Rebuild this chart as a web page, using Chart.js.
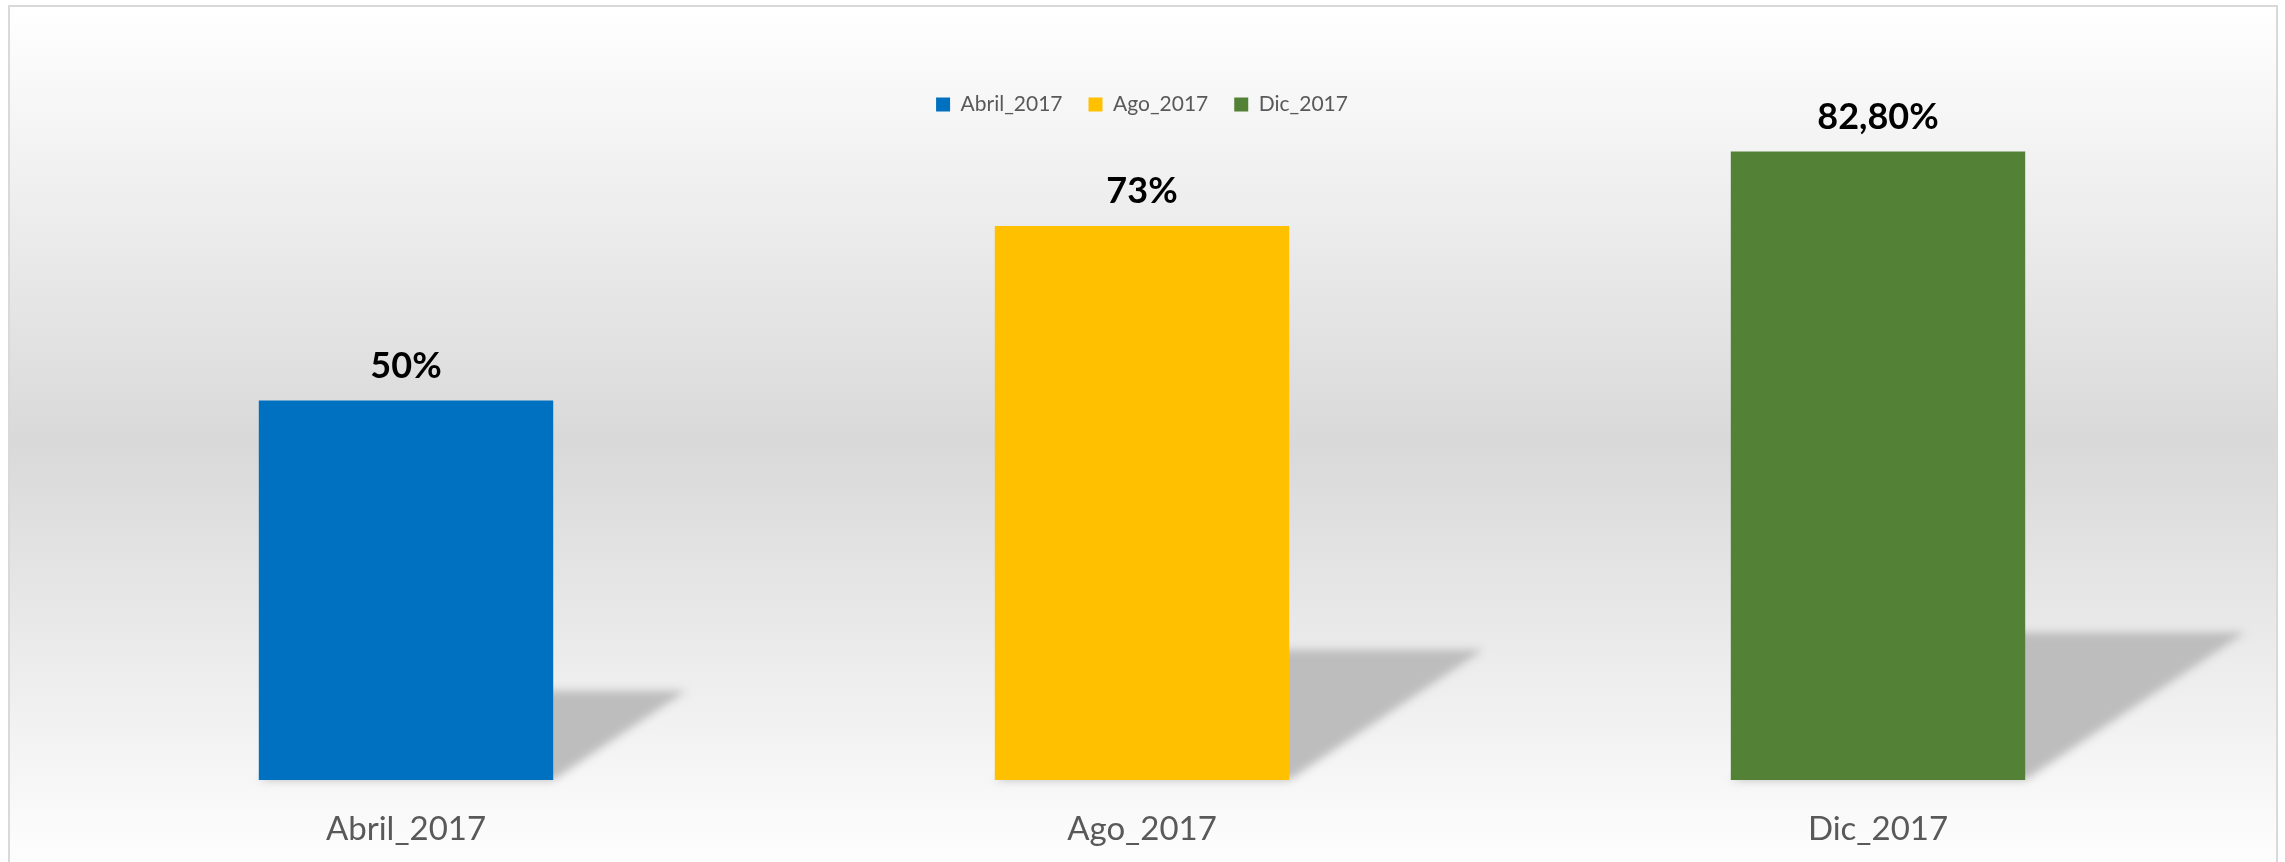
<!DOCTYPE html>
<html>
<head>
<meta charset="utf-8">
<script src="https://cdn.jsdelivr.net/npm/chart.js@4"></script>
<style>
  html, body { margin: 0; padding: 0; background: #ffffff; }
  canvas { display: block; }
</style>
</head>
<body>
<canvas id="myChart" width="2285" height="862"></canvas>
<script>
var categories = ['Abril_2017', 'Ago_2017', 'Dic_2017'];
var values = [50, 73, 82.8];
var valueLabels = ['50%', '73%', '82,80%'];
var colors = ['#0070C0', '#FFC000', '#538135'];

// one dataset per period so the legend gets three entries
var datasets = categories.map(function (name, i) {
    return {
        label: name,
        data: categories.map(function (c, j) { return j === i ? values[i] : null; }),
        backgroundColor: colors[i],
        borderWidth: 0,
        grouped: false,
        categoryPercentage: 1,
        barPercentage: 0.4
    };
});

// gradient panel + light frame
const panelBg = {
    id: 'panelBg',
    beforeDraw(chart) {
        const c = chart.ctx;
        c.save();
        const g = c.createLinearGradient(0, 6, 0, 880);
        g.addColorStop(0, '#ffffff');
        g.addColorStop(0.5, '#d9d9d9');
        g.addColorStop(1, '#ffffff');
        c.fillStyle = g;
        c.fillRect(9, 6, 2268, 880);
        c.strokeStyle = '#d9d9d9';
        c.lineWidth = 2;
        c.strokeRect(9, 6, 2268, 880);
        c.restore();
    }
};

// slanted shadow behind each bar
const barShadow = {
    id: 'barShadow',
    beforeDatasetsDraw(chart) {
        const c = chart.ctx;
        chart.data.datasets.forEach(function (ds, i) {
            const meta = chart.getDatasetMeta(i);
            meta.data.forEach(function (bar, j) {
                if (ds.data[j] == null) return;
                const h = bar.base - bar.y;
                const sh = h * 0.235;
                const dx = sh * 1.49;
                const l = bar.x - bar.width / 2, r = bar.x + bar.width / 2;
                c.save();
                c.filter = 'blur(4px)';
                c.fillStyle = '#bdbdbd';
                c.beginPath();
                c.moveTo(l, bar.base);
                c.lineTo(r, bar.base);
                c.lineTo(r + dx, bar.base - sh);
                c.lineTo(l + dx, bar.base - sh);
                c.closePath();
                c.fill();
                c.restore();
            });
        });
    }
};

// value labels above the bars
const barLabels = {
    id: 'barLabels',
    afterDatasetsDraw(chart) {
        const c = chart.ctx;
        c.save();
        c.font = 'bold 36px Lato';
        c.fillStyle = '#000000';
        c.textAlign = 'center';
        c.textBaseline = 'alphabetic';
        chart.data.datasets.forEach(function (ds, i) {
            const meta = chart.getDatasetMeta(i);
            meta.data.forEach(function (bar, j) {
                if (ds.data[j] == null) return;
                c.fillText(valueLabels[j], bar.x, bar.y - 23);
            });
        });
        c.restore();
    }
};

var ctx = document.getElementById('myChart');
const myChart = new Chart(ctx, {
    type: 'bar',
    data: {
        labels: categories,
        datasets: datasets
    },
    options: {
        responsive: false,
        animation: false,
        devicePixelRatio: 1,
        layout: {
            padding: { left: 38, right: 39, top: 68, bottom: 0 }
        },
        plugins: {
            legend: {
                position: 'top',
                align: 'center',
                labels: {
                    color: '#595959',
                    boxWidth: 14,
                    boxHeight: 14,
                    padding: 26,
                    font: { family: 'Lato', size: 21 }
                }
            },
            tooltip: { enabled: false }
        },
        scales: {
            x: {
                grid: { display: false, drawTicks: false },
                border: { display: false },
                afterFit: function (scale) { scale.height = 82; },
                ticks: {
                    color: '#595959',
                    padding: 30,
                    font: { family: 'Lato', size: 33 }
                }
            },
            y: {
                display: false,
                min: 0,
                max: 86.3
            }
        }
    },
    plugins: [panelBg, barShadow, barLabels]
});
</script>
</body>
</html>
